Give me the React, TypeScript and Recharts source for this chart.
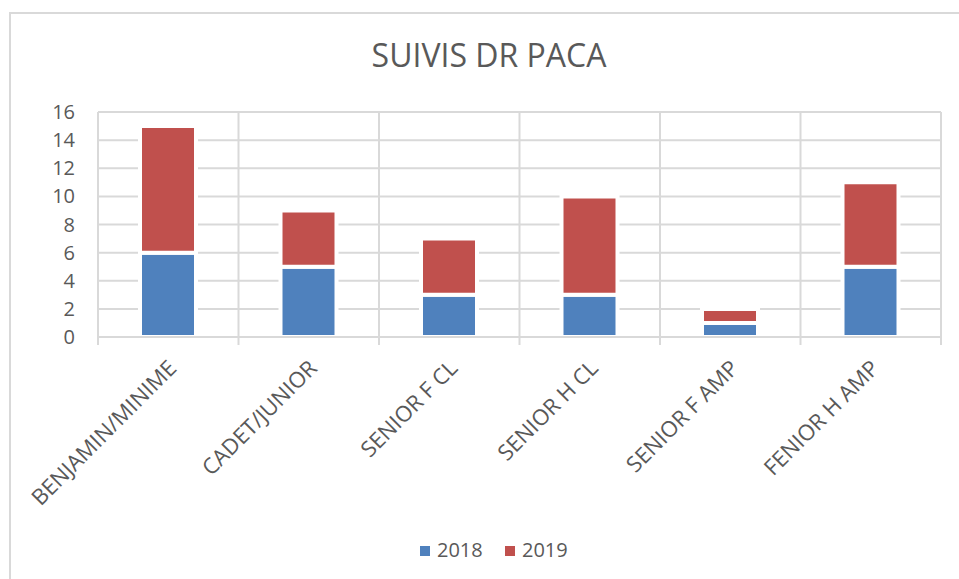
import {BarChart, Bar, XAxis, YAxis, CartesianGrid} from 'recharts';

const categories = [
  'BENJAMIN/MINIME',
  'CADET/JUNIOR',
  'SENIOR F CL',
  'SENIOR H CL',
  'SENIOR F AMP',
  'FENIOR H AMP',
];
const values2018 = [6, 5, 3, 3, 1, 5];
const values2019 = [9, 4, 4, 7, 1, 6];
const yTicks = [0, 2, 4, 6, 8, 10, 12, 14, 16];

const data = categories.map((name, i) => ({
  name,
  y2018: values2018[i],
  y2019: values2019[i],
}));

const BLUE = '#4f81bd';
const RED = '#c0504d';
const GRID = '#d9d9d9';
const TEXT = '#595959';
const FONT = '"Open Sans", sans-serif';

const CHART_W = 959;
const MARGIN = {top: 112, right: 18, left: 38, bottom: 0};
const Y_W = 60;
const PLOT_W = CHART_W - MARGIN.left - MARGIN.right - Y_W;
const BAND = PLOT_W / categories.length;

// label + boundary tick mark under the axis
const CategoryTick = ({x, y, payload, index}: any) => {
  const left = x - BAND / 2;
  return (
    <g>
      <line x1={left} x2={left} y1={y} y2={y + 8} stroke={GRID} strokeWidth={2} />
      {index === categories.length - 1 && (
        <line x1={left + BAND} x2={left + BAND} y1={y} y2={y + 8} stroke={GRID} strokeWidth={2} />
      )}
      <g transform={`translate(${x - 1},${y + 22})`}>
        <text transform="rotate(-45)" textAnchor="end" dy={15} fill={TEXT} fontSize={22} fontFamily={FONT}>
          {payload.value}
        </text>
      </g>
    </g>
  );
};

export default function App() {
  return (
    <div style={{position: 'absolute', left: 0, top: 0, width: 959, height: 579, overflow: 'hidden', background: '#fff', fontFamily: FONT}}>
      <div
        style={{
          position: 'absolute',
          left: 9,
          top: 12,
          width: 1000,
          height: 1000,
          border: `2px solid ${GRID}`,
        }}
      />
      <BarChart
        width={CHART_W}
        height={579}
        data={data}
        margin={MARGIN}
        style={{position: 'absolute', left: 0, top: 0}}>
        <CartesianGrid
          stroke={GRID}
          strokeWidth={2}
          verticalCoordinatesGenerator={({offset}: any) =>
            categories.map((_, i) => offset.left + (offset.width * i) / categories.length).concat(offset.left + offset.width)
          }
        />
        <XAxis
          dataKey="name"
          height={242}
          interval={0}
          axisLine={{stroke: GRID, strokeWidth: 2}}
          tickLine={false}
          tickSize={0}
          tickMargin={0}
          tick={<CategoryTick />}
        />
        <YAxis
          width={Y_W}
          domain={[0, 16]}
          ticks={yTicks}
          axisLine={false}
          tickLine={false}
          tickMargin={17}
          tick={{fill: TEXT, fontSize: 20, fontFamily: FONT}}
        />
        <Bar dataKey="y2018" stackId="a" fill={BLUE} stroke="#fff" strokeWidth={4} barSize={56} isAnimationActive={false} />
        <Bar dataKey="y2019" stackId="a" fill={RED} stroke="#fff" strokeWidth={4} barSize={56} isAnimationActive={false} />
      </BarChart>
      <svg width={959} height={579} style={{position: 'absolute', left: 0, top: 0, pointerEvents: 'none'}}>
        <text x={489} y={67} textAnchor="middle" fill={TEXT} fontSize={32} fontFamily={FONT}>
          SUIVIS DR PACA
        </text>
        <rect x={420} y={546} width={10} height={10} fill={BLUE} />
        <text x={437} y={557} fill={TEXT} fontSize={20} fontFamily={FONT}>
          2018
        </text>
        <rect x={505} y={546} width={10} height={10} fill={RED} />
        <text x={522} y={557} fill={TEXT} fontSize={20} fontFamily={FONT}>
          2019
        </text>
      </svg>
    </div>
  );
}
